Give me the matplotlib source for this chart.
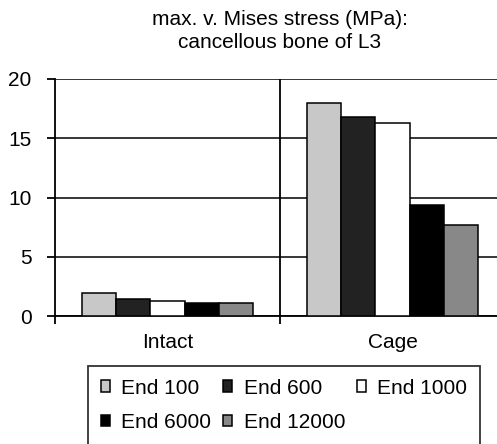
import matplotlib
matplotlib.use("Agg")
import matplotlib.pyplot as plt
import numpy as np

plt.rcParams['font.family'] = ['Liberation Sans', 'DejaVu Sans']

categories = ["Intact", "Cage"]
series_names = ["End 100", "End 600", "End 1000", "End 6000", "End 12000"]
values = {
    "End 100":   [1.92, 17.97],
    "End 600":   [1.46, 16.80],
    "End 1000":  [1.27, 16.25],
    "End 6000":  [1.07, 9.38],
    "End 12000": [1.07, 7.66],
}
colors = ["#c8c8c8", "#222222", "#ffffff", "#000000", "#888888"]
yticks = [0, 5, 10, 15, 20]
title = "max. v. Mises stress (MPa):\ncancellous bone of L3"

W, H = 497, 444
fig = plt.figure(figsize=(W / 100, H / 100), dpi=100)
ax = fig.add_axes([55 / W, 1 - 316 / H, 450 / W, (316 - 79) / H])

x = np.arange(len(categories))
bw = 0.152
handles = []
for i, name in enumerate(series_names):
    off = (i - 2) * bw
    b = ax.bar(x + off, values[name], bw, color=colors[i], edgecolor="black",
               linewidth=1.1, zorder=3, label=name)
    handles.append(b)

ax.set_xlim(-0.5, 1.5)
ax.set_ylim(0, 20)
ax.set_yticks(yticks)
ax.yaxis.grid(True, color="black", linewidth=1.1, zorder=0)
ax.set_axisbelow(True)
ax.axvline(0.5, color="black", linewidth=1.3, zorder=1)

ax.set_xticks(x)
ax.set_xticklabels(categories)
ax.set_xticks([-0.5, 0.5, 1.5], minor=True)
ax.tick_params(axis="x", which="major", length=0, pad=12, labelsize=15)
ax.tick_params(axis="x", which="minor", length=6, width=1.3, direction="out")
ax.tick_params(axis="y", length=6, width=1.3, direction="out", labelsize=15, pad=11)

for s in ["top", "right"]:
    ax.spines[s].set_visible(False)
for s in ["left", "bottom"]:
    ax.spines[s].set_linewidth(1.3)

fig.text(280 / W, 1 - 31 / H, title, ha="center", va="center", fontsize=15,
         linespacing=1.3)

order = [0, 3, 1, 4, 2]
leg = fig.legend([handles[i] for i in order], [series_names[i] for i in order],
                 ncol=3, loc="upper left", bbox_to_anchor=(88 / W, 1 - 366 / H),
                 fontsize=15, frameon=True, fancybox=False, edgecolor="black",
                 handlelength=0.45, handleheight=0.45, handletextpad=0.55,
                 columnspacing=0.55, borderpad=0.6, labelspacing=0.75,
                 borderaxespad=0)
leg.get_frame().set_linewidth(1.3)

fig.savefig("out.png", dpi=100)
